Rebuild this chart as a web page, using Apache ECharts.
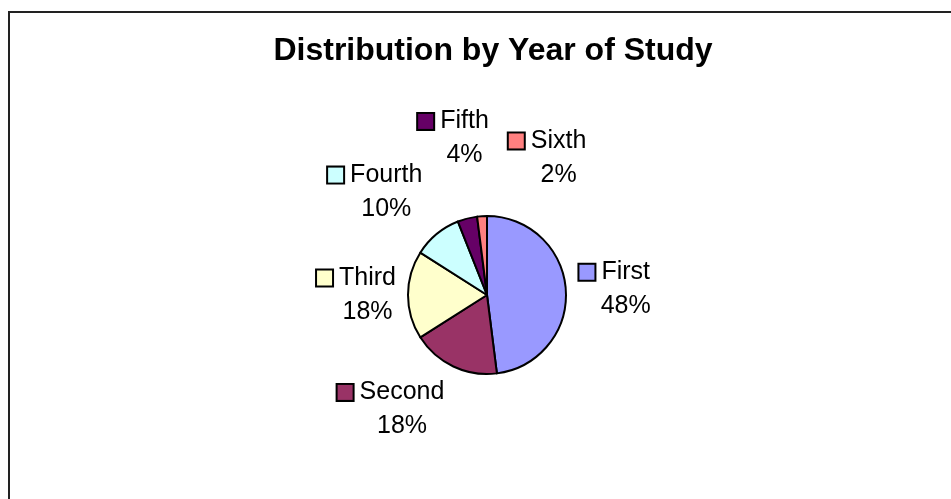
<!DOCTYPE html>
<html>
<head>
<meta charset="utf-8">
<script src="https://cdn.jsdelivr.net/npm/echarts@6/dist/echarts.min.js"></script>
<style>
html, body { margin: 0; padding: 0; background: #ffffff; }
#chart { width: 951px; height: 499px; }
</style>
</head>
<body>
<div id="chart"></div>
<script>
// ---- data ----
const titleText = 'Distribution by Year of Study';
const categories = ['First', 'Second', 'Third', 'Fourth', 'Fifth', 'Sixth'];
const shares = [48, 18, 18, 10, 4, 2];
const colors = ['#9999FF', '#993366', '#FFFFCC', '#CCFFFF', '#660066', '#FF8080'];

// ---- layout / style ----
const CX = 487, CY = 295, R = 79;
const FONT = '"Liberation Sans", Arial, sans-serif';
const SQ = 15, GAP = 7, PADV = 8;
const SMALL_SHARE = 5, SMALL_EXTRA_PER_PCT = 10, PUSH_GAP = 18;

const total = shares.reduce((a, b) => a + b, 0);
const mids = [];
let acc = 0;
shares.forEach(v => { mids.push((acc + v / 2) / total * 2 * Math.PI); acc += v; });

const rich = {
  gap: { width: GAP },
  sp: { width: SQ + GAP },
  nm: { fontSize: 25, fontFamily: FONT, color: '#000', lineHeight: 34, align: 'center' },
  pc: { fontSize: 25, fontFamily: FONT, color: '#000', lineHeight: 34, align: 'center' }
};
colors.forEach((c, i) => {
  rich['sq' + i] = { width: SQ, height: SQ, backgroundColor: c, borderColor: '#000', borderWidth: 2, align: 'center' };
});

const placed = [];
function layoutLabel(p) {
  const i = p.dataIndex;
  if (i === 0) placed.length = 0;
  const th = mids[i];
  const ux = Math.sin(th), uy = -Math.cos(th);
  const w = p.labelRect.width, h = p.labelRect.height;
  const hv = h / 2 - PADV;
  const pct = shares[i] / total * 100;
  let g = 10 + 10 * Math.abs(Math.sin(2 * th));
  if (pct < SMALL_SHARE) g += SMALL_EXTRA_PER_PCT * pct;
  const d = R + 1 + g;
  const px = CX + ux * d, py = CY + uy * d;
  let cx = Math.abs(ux) < 0.3 ? px : (ux > 0 ? px + w / 2 : px - w / 2);
  let cy = Math.abs(uy) < 0.3 ? py : (uy > 0 ? py + hv : py - hv);
  // simple overlap resolution: push horizontally away from earlier labels
  for (const q of placed) {
    const ox = Math.min(cx + w / 2, q.x + q.w / 2) - Math.max(cx - w / 2, q.x - q.w / 2);
    const oy = Math.min(cy + hv, q.y + q.hv) - Math.max(cy - hv, q.y - q.hv);
    if (ox > 0 && oy > 0) {
      if (cx >= q.x) cx = q.x + q.w / 2 + PUSH_GAP + w / 2;
      else cx = q.x - q.w / 2 - PUSH_GAP - w / 2;
    }
  }
  placed.push({ x: cx, y: cy, w: w, hv: hv });
  return { x: cx, y: cy, align: 'center', verticalAlign: 'middle' };
}

const chart = echarts.init(document.getElementById('chart'), null, { renderer: 'canvas' });
chart.setOption({
  animation: false,
  backgroundColor: '#ffffff',
  title: {
    text: titleText,
    left: 488,
    top: 30,
    textAlign: 'center',
    textStyle: { fontFamily: FONT, fontSize: 32, fontWeight: 'bold', color: '#000' }
  },
  graphic: [{
    type: 'rect',
    shape: { x: 9, y: 12, width: 1200, height: 800 },
    style: { fill: 'none', stroke: '#222', lineWidth: 2 },
    silent: true
  }],
  series: [{
    type: 'pie',
    center: [CX, CY],
    radius: R,
    startAngle: 90,
    clockwise: true,
    avoidLabelOverlap: false,
    itemStyle: { borderColor: '#000', borderWidth: 2 },
    label: {
      show: true,
      position: 'outside',
      formatter: p => '{sq' + p.dataIndex + '|}{gap|}{nm|' + p.name + '}\n{sp|}{pc|' + p.percent.toFixed(0) + '%}',
      rich: rich,
      fontFamily: FONT,
      fontSize: 25,
      lineHeight: 34,
      align: 'center'
    },
    labelLine: { show: false },
    labelLayout: layoutLabel,
    emphasis: { disabled: true },
    data: categories.map((n, i) => ({ name: n, value: shares[i], itemStyle: { color: colors[i] } }))
  }]
});
</script>
</body>
</html>
